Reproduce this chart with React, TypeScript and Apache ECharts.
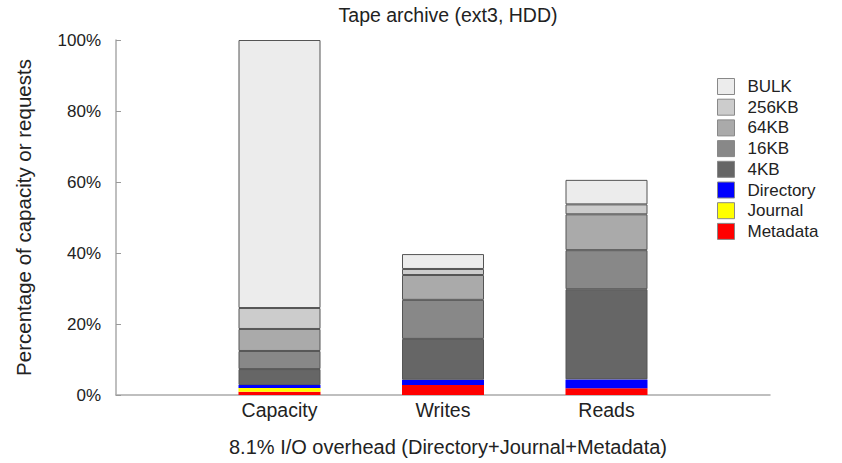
import React, { useEffect, useRef } from "react";
import * as echarts from "echarts";

const categories = ["", "Capacity", "Writes", "Reads", ""];
const seriesNames = ["Metadata", "Journal", "Directory", "4KB", "16KB", "64KB", "256KB", "BULK"];
const metadata = [null, 0.9, 2.8, 1.9, null];
const journal = [null, 1.1, 0, 0, null];
const directory = [null, 0.8, 1.5, 2.5, null];
const kb4 = [null, 4.5, 11.5, 25.4, null];
const kb16 = [null, 5.1, 11.0, 11.0, null];
const kb64 = [null, 6.2, 7.0, 10.1, null];
const kb256 = [null, 5.9, 1.7, 2.8, null];
const bulk = [null, 75.5, 4.2, 6.9, null];
const seriesData = [metadata, journal, directory, kb4, kb16, kb64, kb256, bulk];
const colors = ["#ff0000", "#ffff00", "#0000ff", "#666666", "#888888", "#aaaaaa", "#cccccc", "#ececec"];
const legendOrder = ["BULK", "256KB", "64KB", "16KB", "4KB", "Directory", "Journal", "Metadata"];
const yTicks = [0, 20, 40, 60, 80, 100];

const FONT = "Liberation Sans, Arial, Helvetica, sans-serif";

export default function App() {
  const ref = useRef<HTMLDivElement>(null);
  useEffect(() => {
    if (!ref.current) return;
    const chart = echarts.init(ref.current, undefined, { renderer: "svg" });
    chart.setOption({
      animation: false,
      backgroundColor: "#ffffff",
      textStyle: { fontFamily: FONT },
      title: [
        {
          text: "Tape archive (ext3, HDD)",
          left: 443,
          top: 0,
          textAlign: "center",
          textStyle: { fontSize: 19.5, fontWeight: "normal", color: "#222", fontFamily: FONT },
        },
        {
          text: "8.1% I/O overhead (Directory+Journal+Metadata)",
          left: 443,
          top: 432,
          textAlign: "center",
          textStyle: { fontSize: 20, fontWeight: "normal", color: "#222", fontFamily: FONT },
        },
      ],
      legend: {
        data: legendOrder,
        orient: "vertical",
        left: 717,
        top: 78,
        padding: 0,
        itemWidth: 17,
        itemHeight: 16,
        itemGap: 3.7,
        icon: "rect",
        textStyle: { fontSize: 17, color: "#222", fontFamily: FONT, padding: [0, 0, 0, 8] },
        itemStyle: { borderColor: "#888", borderWidth: 1 },
      },
      grid: { left: 116, right: 72, top: 40, bottom: 68, containLabel: false },
      xAxis: {
        type: "category",
        data: categories,
        boundaryGap: false,
        axisLine: { lineStyle: { color: "#aaaaaa", width: 1.5 } },
        axisTick: { show: false },
        axisLabel: { fontSize: 19.5, color: "#222", margin: 5, fontFamily: FONT },
        splitLine: { show: false },
      },
      yAxis: {
        type: "value",
        min: 0,
        max: 100,
        interval: 20,
        name: "Percentage of capacity or requests",
        nameLocation: "middle",
        nameGap: 82,
        nameRotate: 90,
        nameTextStyle: { fontSize: 20.5, color: "#222", fontFamily: FONT },
        axisLine: { show: true, lineStyle: { color: "#aaaaaa", width: 1.5 } },
        axisTick: { show: true, inside: true, length: 5, lineStyle: { color: "#999" } },
        axisLabel: {
          fontSize: 17,
          color: "#222",
          margin: 15,
          fontFamily: FONT,
          formatter: (v: number) => (yTicks.includes(v) ? v + "%" : ""),
        },
        splitLine: { show: false },
      },
      series: seriesNames.map((name, i) => ({
        name,
        type: "bar",
        stack: "total",
        barWidth: 82,
        data: seriesData[i],
        itemStyle: { color: colors[i], borderColor: "#555555", borderWidth: name === "Journal" || name === "Directory" || name === "Metadata" ? 0 : 1 },
        emphasis: { disabled: true },
      })),
    });
    return () => chart.dispose();
  }, []);
  return (
    <div
      ref={ref}
      style={{ position: "fixed", left: 0, top: 0, width: 842, height: 463 }}
    />
  );
}
